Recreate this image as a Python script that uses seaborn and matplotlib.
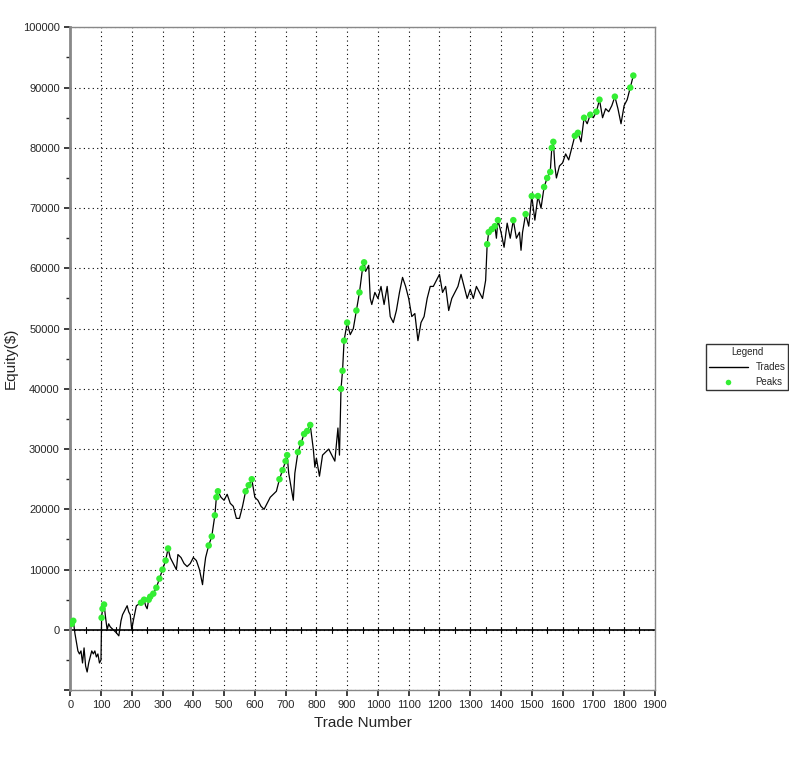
import numpy as np
import pandas as pd
import matplotlib
matplotlib.use('Agg')
import matplotlib.pyplot as plt
import seaborn as sns
from matplotlib.lines import Line2D
from matplotlib.ticker import MultipleLocator

# === DATA ===
trade_no = [0, 5, 10, 15, 20, 25, 30, 35, 40, 45, 50, 55, 60, 65, 70, 75, 80, 85, 90, 95,
            100, 102, 105, 110, 115, 120, 125, 130, 140, 150, 158, 165, 170, 180, 185, 190,
            195, 200, 205, 215, 230, 240, 245, 250, 255, 260, 270, 280, 290, 300, 310, 318,
            325, 335, 345, 350, 360, 370, 380, 390, 400, 410, 420, 430, 435, 440, 450, 460,
            470, 475, 480, 490, 500, 510, 520, 530, 540, 550, 560, 570, 580, 590, 600, 610,
            620, 630, 640, 650, 660, 670, 680, 690, 700, 705, 710, 720, 725, 730, 740, 750,
            760, 770, 780, 790, 795, 800, 810, 820, 830, 840, 850, 860, 870, 875, 880, 885,
            890, 900, 910, 920, 930, 940, 950, 955, 960, 970, 975, 980, 990, 1000, 1010,
            1020, 1030, 1040, 1050, 1060, 1070, 1080, 1090, 1100, 1110, 1120, 1130, 1140,
            1150, 1160, 1170, 1180, 1190, 1200, 1210, 1220, 1230, 1240, 1250, 1260, 1270,
            1280, 1290, 1300, 1310, 1320, 1330, 1340, 1350, 1355, 1360, 1370, 1380, 1385,
            1390, 1400, 1410, 1420, 1430, 1440, 1450, 1460, 1465, 1470, 1480, 1490, 1500,
            1510, 1520, 1530, 1540, 1550, 1560, 1565, 1570, 1575, 1580, 1590, 1600, 1610,
            1620, 1630, 1640, 1650, 1660, 1670, 1680, 1690, 1700, 1710, 1720, 1730, 1740,
            1750, 1760, 1770, 1780, 1790, 1800, 1810, 1820, 1830]
equity = [0, 1000, 1500, -500, -2000, -3500, -4000, -3500, -5500, -3000, -6000, -7000, -5500,
          -4500, -3500, -4000, -3500, -4500, -4000, -5500, -5000, 2000, 3500, 4200, 2000, 0,
          1000, 500, 0, -500, -1000, 1500, 2500, 3500, 4000, 3000, 2500, 0, 1500, 4000, 4500,
          5000, 4000, 3500, 5000, 5500, 6000, 7000, 8500, 10000, 11500, 13500, 12000, 11000,
          10000, 12500, 12000, 11000, 10500, 11000, 12000, 11500, 10000, 7500, 10000, 12000,
          14000, 15500, 19000, 22000, 23000, 22000, 21500, 22500, 21000, 20500, 18500, 18500,
          20500, 23000, 24000, 25000, 22000, 21500, 20500, 20000, 21000, 22000, 22500, 23000,
          25000, 26500, 28000, 29000, 26000, 23000, 21500, 26000, 29500, 31000, 32500, 33000,
          34000, 30000, 27000, 28500, 25500, 29000, 29500, 30000, 29000, 28000, 33500, 29000,
          40000, 43000, 48000, 51000, 49000, 50000, 53000, 56000, 60000, 61000, 59500, 60500,
          55000, 54000, 56000, 55000, 57000, 54000, 57000, 52000, 51000, 53000, 56000, 58500,
          57000, 55000, 52000, 52500, 48000, 51000, 52000, 55000, 57000, 57000, 58000, 59000,
          56000, 57000, 53000, 55000, 56000, 57000, 59000, 57000, 55000, 56500, 55000, 57000,
          56000, 55000, 58000, 64000, 66000, 66500, 67000, 65000, 68000, 66000, 63500, 67500,
          65000, 68000, 65000, 66000, 63000, 66000, 69000, 67000, 72000, 68000, 72000, 70000,
          73500, 75000, 76000, 80000, 81000, 77000, 75000, 77000, 77500, 79000, 78000, 80000,
          82000, 82500, 81000, 85000, 84000, 85500, 85000, 86000, 88000, 85000, 86500, 86000,
          87000, 88500, 86500, 84000, 87000, 88000, 90000, 92000]

df = pd.DataFrame({'Trade': trade_no, 'Equity': equity})
peaks = df[(df['Equity'] >= df['Equity'].cummax()) & (df['Equity'] > 0)]

sns.set_theme(style='white')
plt.rcParams['font.family'] = ['Liberation Sans', 'DejaVu Sans']

fig = plt.figure(figsize=(7.89, 7.6), dpi=100)
ax = fig.add_axes([0.089, 0.092, 0.741, 0.872])

sns.lineplot(data=df, x='Trade', y='Equity', color='black', lw=0.9, ax=ax)
sns.scatterplot(data=peaks, x='Trade', y='Equity', color='#33ee33', s=22,
                edgecolor='none', ax=ax, zorder=3)

ax.set_xlim(0, 1900)
ax.set_ylim(-10000, 100000)
ax.xaxis.set_major_locator(MultipleLocator(100))
ax.yaxis.set_major_locator(MultipleLocator(10000))
ax.yaxis.set_minor_locator(MultipleLocator(5000))
ax.grid(True, which='major', color='black', linestyle=(0, (1, 3)), lw=0.8)
ax.axhline(0, color='black', lw=1.2)
# small ticks along the zero line
for t in range(0, 1900, 50):
    ax.plot([t, t], [-500, 500], color='black', lw=0.8)
ax.set_yticklabels([f'{int(v)}' if v >= 0 else '' for v in ax.get_yticks()])
ax.tick_params(axis='both', which='both', left=True, bottom=True, labelsize=8, length=4)
ax.tick_params(axis='y', which='minor', length=3)
ax.set_xlabel('Trade Number', fontsize=11)
ax.set_ylabel('Equity($)', fontsize=11)
for s in ax.spines.values():
    s.set_color('#888888')
    s.set_linewidth(1.0)
ax.spines['left'].set_linewidth(2)

handles = [Line2D([0], [0], color='black', lw=1),
           Line2D([0], [0], marker='o', color='none', markerfacecolor='#33ee33',
                  markeredgecolor='none', markersize=4)]
leg = fig.legend(handles, ['Trades', 'Peaks'], title='Legend', loc='center',
                 bbox_to_anchor=(0.947, 0.517), fontsize=7, title_fontsize=7,
                 frameon=True, fancybox=False, edgecolor='black', markerfirst=True,
                 handlelength=4, borderpad=0.3)

fig.savefig('out.png', dpi=100)
